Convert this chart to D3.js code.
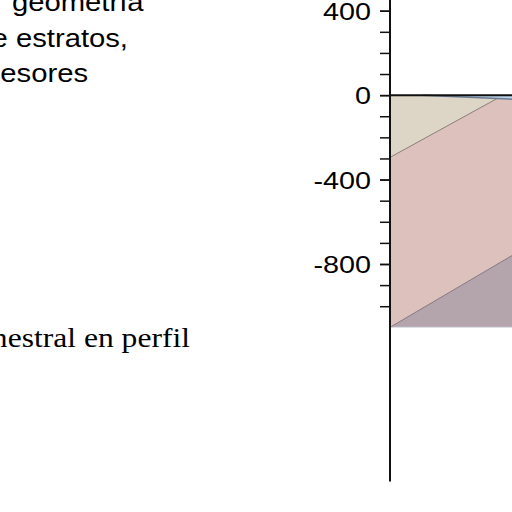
<!DOCTYPE html>
<html>
<head>
<meta charset="utf-8">
<script src="https://cdn.jsdelivr.net/npm/d3@7"></script>
<style>
  body { margin: 0; background: #fff; }
</style>
</head>
<body>
<svg width="512" height="512"></svg>
<script>
// valores (profundidad en m, distancia en m)
const majorTicks = [400, 0, -400, -800];
const minorTicks = [400, 300, 200, 100, 0, -100, -200, -300, -400, -500, -600, -700, -800, -900, -1000];
const depthExtent = [500, -1830];

// límites entre estratos: [distancia, cota]
const superficie = [[0, 0], [600, 0]];
const baseAgua = [[155, 0], [506, -16], [600, -20]];
const baseCapa1 = [[0, -295], [506, -16]];
const baseCapa2 = [[0, -1100], [600, -746]];
const baseModelo = [[0, -1100], [600, -1100]];

const textoLineas = ["geometría", "de estratos,", "espesores"];
const leyenda = "sinestral en perfil";

const svg = d3.select("svg");

// escalas
const y = d3.scaleLinear().domain([400, -800]).range([10.7, 264]);
const x = d3.scaleLinear().domain([0, 600]).range([390, 517]);

const line = d3.line().x(d => x(d[0])).y(d => y(d[1]));

// polígonos de los estratos
const capas = [
  { pts: [superficie[0], ...baseAgua.slice(0, 2), baseCapa1[0]], fill: "#ddd5c5" },
  { pts: [...baseCapa1, baseAgua[2], ...baseCapa2.slice().reverse()], fill: "#dcc1bd" },
  { pts: [...baseCapa2, baseModelo[1]], fill: "#b4a5ad" },
  { pts: [baseAgua[0], superficie[1], ...baseAgua.slice().reverse()], fill: "#bcd4e8" }
];

svg.selectAll(".capa")
  .data(capas)
  .enter().append("path")
  .attr("class", "capa")
  .attr("d", d => line(d.pts) + "Z")
  .attr("fill", d => d.fill);

// contactos
svg.append("path").attr("d", line(baseCapa1))
  .attr("fill", "none").attr("stroke", "#8c7c78").attr("stroke-width", 1);
svg.append("path").attr("d", line(baseCapa2))
  .attr("fill", "none").attr("stroke", "#857780").attr("stroke-width", 1);
svg.append("path").attr("d", line(baseAgua))
  .attr("fill", "none").attr("stroke", "#6a7c94").attr("stroke-width", 1.5);
svg.append("path").attr("d", line(baseModelo))
  .attr("fill", "none").attr("stroke", "#d8dde2").attr("stroke-width", 1);
svg.append("path").attr("d", line(superficie))
  .attr("fill", "none").attr("stroke", "#111").attr("stroke-width", 2);

// eje vertical
svg.append("line")
  .attr("x1", x(0)).attr("x2", x(0))
  .attr("y1", y(depthExtent[0])).attr("y2", y(depthExtent[1]))
  .attr("stroke", "#111").attr("stroke-width", 2);

const minor = svg.append("g")
  .attr("transform", `translate(${x(0)},0)`)
  .call(d3.axisLeft(y).tickValues(minorTicks).tickSize(10).tickFormat(""));
minor.select(".domain").remove();
minor.selectAll("line").attr("stroke", "#111").attr("stroke-width", 1.5);

const major = svg.append("g")
  .attr("transform", `translate(${x(0)},0)`)
  .call(d3.axisLeft(y).tickValues(majorTicks).tickSize(10).tickFormat(d => String(d)));
major.select(".domain").remove();
major.selectAll("line").attr("stroke", "#111").attr("stroke-width", 1.5);
major.selectAll("text")
  .attr("x", null)
  .attr("dy", "0.38em")
  .attr("transform", "translate(-19,0) scale(1.25,1)")
  .attr("text-anchor", "end")
  .attr("fill", "#000")
  .style("font-family", "'Liberation Sans', Arial, sans-serif")
  .style("font-size", "23px");

// texto a la izquierda (recortado)
const anclas = [
  { x: 12, y: 11, anchor: "start" },
  { x: 128, y: 47, anchor: "end" },
  { x: 88, y: 82, anchor: "end" }
];
svg.selectAll(".linea")
  .data(textoLineas)
  .enter().append("text")
  .attr("class", "linea")
  .attr("transform", (d, i) => `translate(${anclas[i].x},${anclas[i].y}) scale(1.17,1)`)
  .attr("text-anchor", (d, i) => anclas[i].anchor)
  .style("font-family", "'Liberation Sans', Arial, sans-serif")
  .style("font-size", "25px")
  .text(d => d);

svg.append("text")
  .attr("transform", "translate(190,347) scale(1.17,1)")
  .attr("text-anchor", "end")
  .style("font-family", "'Liberation Serif', 'Times New Roman', serif")
  .style("font-size", "27px")
  .text(leyenda);
</script>
</body>
</html>
